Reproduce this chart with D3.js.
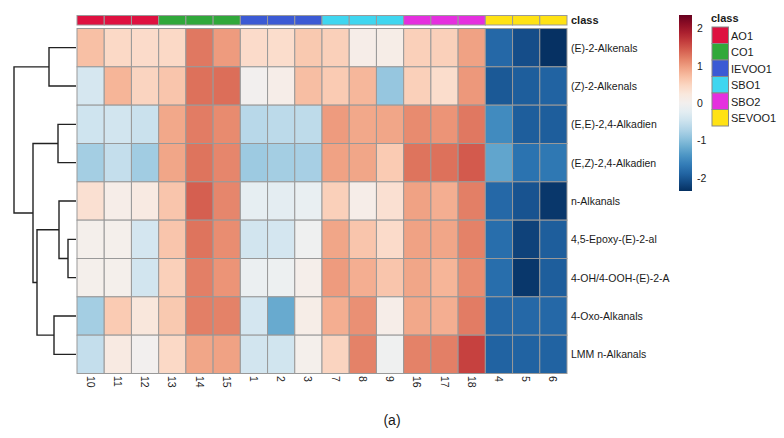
<!DOCTYPE html>
<html>
<head>
<meta charset="utf-8">
<script src="https://cdn.jsdelivr.net/npm/d3@7"></script>
<style>
  html, body { margin: 0; padding: 0; background: #ffffff; }
  svg { display: block; }
  text { font-family: "Liberation Sans", Arial, sans-serif; fill: #1a1a1a; }
</style>
</head>
<body>
<svg id="chart" width="784" height="438"></svg>
<script>
// ---------------- DATA ----------------
const rowLabels = ["(E)-2-Alkenals", "(Z)-2-Alkenals", "(E,E)-2,4-Alkadien", "(E,Z)-2,4-Alkadien",
  "n-Alkanals", "4,5-Epoxy-(E)-2-al", "4-OH/4-OOH-(E)-2-A", "4-Oxo-Alkanals", "LMM n-Alkanals"];
const colLabels = ["10","11","12","13","14","15","1","2","3","7","8","9","16","17","18","4","5","6"];
const classNames = ["AO1","CO1","IEVOO1","SBO1","SBO2","SEVOO1"];
const classColors = ["#de1140","#30a83a","#3b5ad4","#3fd6f0","#e52fdf","#ffe214"];
// top-bar classes as they appear left to right (per column)
const barClasses = ["AO1","AO1","AO1","CO1","CO1","CO1","IEVOO1","IEVOO1","IEVOO1",
  "SBO1","SBO1","SBO1","SBO2","SBO2","SBO2","SEVOO1","SEVOO1","SEVOO1"];

// z-scores, one array per row, columns in displayed order
const values = [
  [0.70, 0.45, 0.42, 0.45, 1.25, 1.00, 0.42, 0.40, 0.62, 0.55, 0.10, 0.12, 0.55, 0.55, 0.95, -1.85, -2.10, -2.35],
  [-0.38, 0.80, 0.50, 0.65, 1.30, 1.32, 0.00, 0.10, 0.72, 0.60, 0.78, -0.90, 0.55, 0.40, 1.02, -2.00, -1.95, -1.90],
  [-0.45, -0.42, -0.50, 0.90, 1.22, 1.12, -0.65, -0.62, -0.60, 1.00, 0.90, 0.92, 1.12, 1.05, 1.25, -1.50, -1.95, -1.95],
  [-0.80, -0.55, -0.82, 0.92, 1.28, 1.15, -0.85, -0.80, -0.78, 0.95, 0.92, 0.60, 1.28, 1.30, 1.45, -1.25, -1.75, -1.70],
  [0.35, 0.10, 0.18, 0.65, 1.42, 1.15, -0.20, -0.22, -0.15, 0.55, 0.10, 0.35, 0.95, 0.85, 1.20, -1.85, -2.05, -2.30],
  [0.05, 0.05, -0.40, 0.65, 1.28, 1.10, -0.42, -0.40, -0.05, 0.92, 0.65, 0.42, 0.95, 0.92, 1.18, -1.80, -2.20, -1.95],
  [0.05, 0.05, -0.42, 0.55, 1.20, 1.05, -0.12, -0.08, 0.08, 1.00, 0.85, 0.65, 0.92, 0.80, 1.10, -1.80, -2.30, -1.95],
  [-0.80, 0.60, 0.25, 0.62, 1.20, 1.18, -0.40, -1.20, 0.12, 0.85, 1.08, 0.10, 0.90, 0.85, 1.22, -1.85, -1.85, -1.85],
  [-0.55, 0.18, 0.00, 0.45, 0.92, 0.95, -0.42, -0.43, 0.05, 0.50, 1.18, -0.05, 1.18, 1.20, 1.62, -1.90, -1.90, -1.90]
];

// row dendrogram in hclust "merge" form: [child A, child B, height]; negative = leaf (1-based row)
const dendroMerge = [
  [-1, -2, 27],
  [-3, -4, 18],
  [-6, -7, 8],
  [-5, 3, 17],
  [-8, -9, 22],
  [4, 5, 39],
  [2, 6, 43],
  [1, 7, 62]
];

const colorDomain = [-2.36, 2.36];
const legendTicks = [-2, -1, 0, 1, 2];
const caption = "(a)";

// ---------------- DRAW ----------------
const svg = d3.select("#chart");

const x = d3.scaleBand().domain(d3.range(colLabels.length)).range([77, 567]);
const y = d3.scaleBand().domain(d3.range(rowLabels.length)).range([28.5, 373.5]);
const color = v => d3.interpolateRdBu(1 - (v - colorDomain[0]) / (colorDomain[1] - colorDomain[0]));

// heatmap cells
const cells = [];
values.forEach((row, r) => row.forEach((v, c) => cells.push({r, c, v})));
svg.append("g").selectAll("rect").data(cells).join("rect")
  .attr("x", d => x(d.c)).attr("y", d => y(d.r))
  .attr("width", x.bandwidth()).attr("height", y.bandwidth())
  .attr("fill", d => color(d.v))
  .attr("stroke", "#999999").attr("stroke-width", 1);

// class bar
const classColor = d3.scaleOrdinal().domain(classNames).range(classColors);
svg.append("g").selectAll("rect").data(barClasses).join("rect")
  .attr("x", (d, i) => x(i)).attr("y", 15.5)
  .attr("width", x.bandwidth()).attr("height", 9.5)
  .attr("fill", d => classColor(d))
  .attr("stroke", "#999999").attr("stroke-width", 1);
svg.append("text").attr("x", 571).attr("y", 24)
  .attr("font-size", 11).attr("font-weight", "bold").text("class");

// row labels
svg.append("g").selectAll("text").data(rowLabels).join("text")
  .attr("x", 571).attr("y", (d, i) => y(i) + y.bandwidth() / 2)
  .attr("dominant-baseline", "central")
  .attr("font-size", 10.5).text(d => d);

// column labels (rotated)
svg.append("g").selectAll("text").data(colLabels).join("text")
  .attr("transform", (d, i) => `translate(${x(i) + x.bandwidth() / 2},376) rotate(90)`)
  .attr("dominant-baseline", "central")
  .attr("font-size", 10.5).text(d => d);

// dendrogram
const hx = d3.scaleLinear().domain([0, d3.max(dendroMerge, d => d[2])]).range([76, 14]);
const nodes = [];
function info(id) {
  if (id < 0) { const r = -id - 1; return {y: y(r) + y.bandwidth() / 2, h: 0}; }
  return nodes[id - 1];
}
const dg = svg.append("g").attr("fill", "none").attr("stroke", "#222").attr("stroke-width", 1.4);
dendroMerge.forEach(([a, b, h]) => {
  const A = info(a), B = info(b);
  const xx = hx(h);
  dg.append("path").attr("d",
    `M${hx(A.h)},${A.y}H${xx}V${B.y}H${hx(B.h)}`);
  nodes.push({y: (A.y + B.y) / 2, h});
});

// colour bar legend
const defs = svg.append("defs");
const grad = defs.append("linearGradient").attr("id", "cbar")
  .attr("x1", 0).attr("y1", 1).attr("x2", 0).attr("y2", 0);
d3.range(0, 1.0001, 0.05).forEach(t => {
  grad.append("stop").attr("offset", t)
    .attr("stop-color", color(colorDomain[0] + t * (colorDomain[1] - colorDomain[0])));
});
const cb = d3.scaleLinear().domain(colorDomain).range([191, 15]);
svg.append("rect").attr("x", 679).attr("y", 15).attr("width", 13).attr("height", 176)
  .attr("fill", "url(#cbar)");
svg.append("g").selectAll("text").data(legendTicks).join("text")
  .attr("x", 697).attr("y", d => cb(d))
  .attr("dominant-baseline", "central")
  .attr("font-size", 10.5).text(d => d);

// class legend
svg.append("text").attr("x", 711).attr("y", 22)
  .attr("font-size", 11).attr("font-weight", "bold").text("class");
const lg = svg.append("g");
classNames.forEach((c, i) => {
  lg.append("rect").attr("x", 712).attr("y", 27 + i * 16.5)
    .attr("width", 16.5).attr("height", 16.5)
    .attr("fill", classColor(c)).attr("stroke", "#888").attr("stroke-width", 1);
  lg.append("text").attr("x", 731).attr("y", 27 + i * 16.5 + 8.5)
    .attr("dominant-baseline", "central").attr("font-size", 11).text(c);
});

// caption
svg.append("text").attr("x", 392).attr("y", 425).attr("text-anchor", "middle")
  .attr("font-family", "'Liberation Serif', 'DejaVu Serif', serif")
  .attr("font-size", 14).text(caption);
</script>
</body>
</html>
